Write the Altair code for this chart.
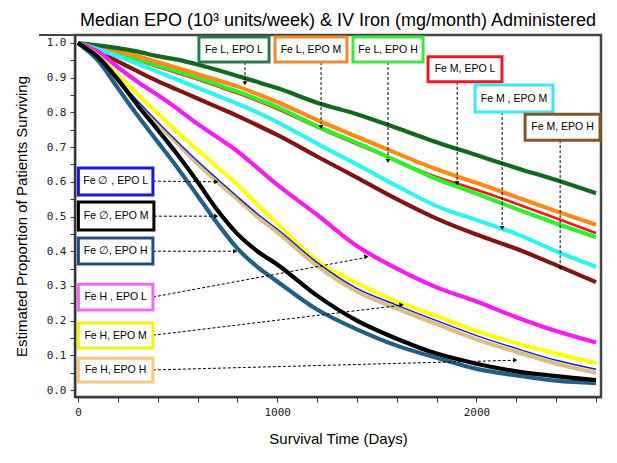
import math
import altair as alt
import pandas as pd

# ---------------- data ----------------
DAYS = [0, 100, 200, 300, 400, 500, 600, 700, 800, 900, 1000, 1200, 1400, 1600, 1800, 2000, 2200, 2400, 2600]

SERIES = ["Fe M, EPO L", "Fe L, EPO H", "Fe L, EPO M", "Fe L, EPO L", "Fe M, EPO H", "Fe M, EPO M",
          "Fe H, EPO L", "Fe H, EPO M", "Fe H, EPO H", "Fe ∅, EPO L", "Fe ∅, EPO H", "Fe ∅, EPO M"]

S_FE_L_EPO_L = [1.0, 0.993, 0.985, 0.975, 0.962, 0.952, 0.938, 0.922, 0.905, 0.888, 0.870, 0.828, 0.795, 0.755, 0.714, 0.677, 0.640, 0.605, 0.567]
S_FE_L_EPO_M = [1.0, 0.990, 0.977, 0.962, 0.945, 0.928, 0.910, 0.893, 0.875, 0.853, 0.830, 0.778, 0.730, 0.682, 0.636, 0.597, 0.556, 0.515, 0.476]
S_FE_L_EPO_H = [1.0, 0.987, 0.972, 0.953, 0.935, 0.918, 0.900, 0.880, 0.860, 0.838, 0.815, 0.760, 0.712, 0.660, 0.608, 0.566, 0.522, 0.480, 0.440]
S_FE_M_EPO_L = [1.0, 0.986, 0.970, 0.950, 0.931, 0.913, 0.895, 0.875, 0.855, 0.833, 0.810, 0.757, 0.708, 0.660, 0.614, 0.577, 0.537, 0.495, 0.452]
S_FE_M_EPO_M = [1.0, 0.982, 0.962, 0.940, 0.917, 0.894, 0.871, 0.848, 0.825, 0.800, 0.772, 0.710, 0.650, 0.588, 0.530, 0.490, 0.450, 0.400, 0.355]
S_FE_M_EPO_H = [1.0, 0.975, 0.947, 0.918, 0.890, 0.865, 0.840, 0.815, 0.790, 0.763, 0.735, 0.673, 0.612, 0.550, 0.494, 0.448, 0.407, 0.360, 0.311]
S_FE_0_EPO_L = [1.0, 0.955, 0.895, 0.832, 0.772, 0.715, 0.660, 0.608, 0.557, 0.508, 0.464, 0.368, 0.293, 0.245, 0.200, 0.157, 0.120, 0.086, 0.060]
S_FE_0_EPO_M = [1.0, 0.960, 0.895, 0.820, 0.750, 0.678, 0.600, 0.518, 0.450, 0.400, 0.362, 0.272, 0.200, 0.148, 0.105, 0.076, 0.054, 0.040, 0.029]
S_FE_0_EPO_H = [1.0, 0.950, 0.870, 0.790, 0.715, 0.640, 0.560, 0.480, 0.408, 0.355, 0.313, 0.232, 0.175, 0.128, 0.093, 0.061, 0.042, 0.027, 0.020]
S_FE_H_EPO_L = [1.0, 0.975, 0.930, 0.888, 0.850, 0.810, 0.767, 0.728, 0.688, 0.640, 0.592, 0.505, 0.415, 0.350, 0.296, 0.255, 0.210, 0.170, 0.137]
S_FE_H_EPO_M = [1.0, 0.963, 0.908, 0.852, 0.797, 0.743, 0.692, 0.642, 0.592, 0.535, 0.480, 0.372, 0.308, 0.255, 0.213, 0.170, 0.135, 0.105, 0.078]
S_FE_H_EPO_H = [1.0, 0.952, 0.890, 0.828, 0.768, 0.710, 0.652, 0.600, 0.550, 0.500, 0.455, 0.358, 0.284, 0.235, 0.190, 0.146, 0.110, 0.076, 0.050]

VALUES = {
    "Fe L, EPO L": S_FE_L_EPO_L, "Fe L, EPO M": S_FE_L_EPO_M, "Fe L, EPO H": S_FE_L_EPO_H,
    "Fe M, EPO L": S_FE_M_EPO_L, "Fe M, EPO M": S_FE_M_EPO_M, "Fe M, EPO H": S_FE_M_EPO_H,
    "Fe ∅, EPO L": S_FE_0_EPO_L, "Fe ∅, EPO M": S_FE_0_EPO_M, "Fe ∅, EPO H": S_FE_0_EPO_H,
    "Fe H, EPO L": S_FE_H_EPO_L, "Fe H, EPO M": S_FE_H_EPO_M, "Fe H, EPO H": S_FE_H_EPO_H,
}

X_TICKS = list(range(0, 2601, 200))
Y_TICKS = [round(i * 0.05, 2) for i in range(21)]

# ---------------- styles ----------------
LINE_COLOR = {
    "Fe L, EPO L": "#0f6a1c", "Fe L, EPO M": "#ff8a1c", "Fe L, EPO H": "#2ef02e",
    "Fe M, EPO L": "#f01818", "Fe M, EPO M": "#30f4f4", "Fe M, EPO H": "#821414",
    "Fe ∅, EPO L": "#1c1cc8", "Fe ∅, EPO M": "#000000", "Fe ∅, EPO H": "#1f6088",
    "Fe H, EPO L": "#f51cf5", "Fe H, EPO M": "#ffff14", "Fe H, EPO H": "#d8bf88",
}
LINE_WIDTH = {k: 4.2 for k in LINE_COLOR}
LINE_WIDTH["Fe M, EPO L"] = 2.6
LINE_WIDTH["Fe ∅, EPO L"] = 1.4

# label boxes: text, border colour, box (day, day2, surv, surv2), arrow (start day, start surv, end day, end surv)
LABELS = [
    ("Fe L, EPO L", "#2a7a50", 607, 959, 1.017, 0.945, 838, 0.945, 838, 0.893),
    ("Fe L, EPO M", "#f28a2a", 989, 1350, 1.017, 0.945, 1220, 0.945, 1220, 0.767),
    ("Fe L, EPO H", "#3ee83e", 1380, 1732, 1.017, 0.945, 1556, 0.945, 1556, 0.669),
    ("Fe M, EPO L", "#e81a2a", 1757, 2128, 0.960, 0.888, 1903, 0.888, 1903, 0.605),
    ("Fe M , EPO M", "#3ee8f2", 1993, 2384, 0.879, 0.801, 2129, 0.801, 2129, 0.476),
    ("Fe M, EPO H", "#84542a", 2244, 2620, 0.795, 0.720, 2420, 0.720, 2420, 0.360),
    ("Fe ∅ , EPO L", "#1a1ad0", 2, 376, 0.640, 0.562, 376, 0.602, 703, 0.600),
    ("Fe ∅, EPO M", "#000000", 2, 381, 0.542, 0.461, 381, 0.501, 703, 0.501),
    ("Fe ∅, EPO H", "#1f4e88", 2, 376, 0.438, 0.363, 376, 0.400, 798, 0.400),
    ("Fe H , EPO L", "#f06cf0", 2, 376, 0.305, 0.231, 376, 0.268, 1456, 0.383),
    ("Fe H, EPO M", "#f2f214", 2, 376, 0.193, 0.121, 376, 0.158, 1632, 0.245),
    ("Fe H, EPO H", "#f5c87a", 2, 376, 0.092, 0.023, 376, 0.058, 2204, 0.086),
]

W, H = 526, 362
X_DOM = [-15, 2625]
Y_DOM = [-0.02, 1.023]
PX_PER_DAY = W / (X_DOM[1] - X_DOM[0])
PX_PER_UNIT = H / (Y_DOM[1] - Y_DOM[0])

# ---------------- tables ----------------
rows = []
for name in SERIES:
    for d, v in zip(DAYS, VALUES[name]):
        rows.append({"series": name, "day": d, "surv": v})
curves = pd.DataFrame(rows)

box_rows, arrow_rows = [], []
for (txt, col, d1, d2, s1, s2, ad1, as1, ad2, as2) in LABELS:
    box_rows.append({"label": txt, "col": col, "day": d1, "day2": d2, "surv": s1, "surv2": s2,
                     "tday": (d1 + d2) / 2, "tsurv": (s1 + s2) / 2})
    dx = (ad2 - ad1) * PX_PER_DAY
    dy = -(as2 - as1) * PX_PER_UNIT
    ang = math.degrees(math.atan2(dx, -dy)) % 360
    arrow_rows.append({"day": ad1, "surv": as1, "day2": ad2, "surv2": as2, "angle": ang,
                       "hday": ad2 - 2.5 * math.sin(math.radians(ang)) / PX_PER_DAY,
                       "hsurv": as2 + 2.5 * math.cos(math.radians(ang)) / PX_PER_UNIT})
boxes = pd.DataFrame(box_rows)
arrows = pd.DataFrame(arrow_rows)

# ---------------- encodings ----------------
xscale = alt.Scale(domain=X_DOM, nice=False, zero=False)
yscale = alt.Scale(domain=Y_DOM, nice=False, zero=False)
xaxis = alt.Axis(values=X_TICKS, labelExpr="datum.value % 1000 == 0 ? datum.value : ''",
                 title="Survival Time (Days)", titlePadding=14, labelPadding=4)
yaxis = alt.Axis(values=Y_TICKS, labelExpr="round(datum.value*100) % 10 == 0 ? format(datum.value, '.1f') : ''",
                 title="Estimated Proportion of Patients Surviving", titlePadding=17, labelPadding=4)


def X(field):
    return alt.X(field, type="quantitative", scale=xscale, axis=xaxis)


def Y(field):
    return alt.Y(field, type="quantitative", scale=yscale, axis=yaxis)


layers = []
for name in SERIES:
    ln = alt.Chart(curves[curves.series == name]).mark_line(
        color=LINE_COLOR[name], strokeWidth=LINE_WIDTH[name], strokeJoin="round",
        interpolate="monotone", clip=True
    ).encode(x=X("day"), y=Y("surv"))
    layers.append(ln)

top_ext = alt.Chart(pd.DataFrame({"a": [0]})).mark_rule(color="#444", strokeWidth=2).encode(
    x=alt.value(-36), x2=alt.value(W), y=alt.value(0))

dash = alt.Chart(arrows).mark_rule(color="black", strokeWidth=1, strokeDash=[3, 2]).encode(
    x=X("day"), x2="day2", y=Y("surv"), y2="surv2")
heads = alt.Chart(arrows).mark_point(shape="triangle", filled=True, color="black", opacity=1, size=22).encode(
    x=X("hday"), y=Y("hsurv"), angle=alt.Angle("angle:Q", scale=None))
rects = alt.Chart(boxes).mark_rect(fill="white", strokeWidth=3).encode(
    x=X("day"), x2="day2", y=Y("surv"), y2="surv2",
    stroke=alt.Stroke("col:N", scale=None))
texts = alt.Chart(boxes).mark_text(font="Liberation Sans", fontSize=10.5, color="black").encode(
    x=X("tday"), y=Y("tsurv"), text="label:N")

chart = alt.layer(*layers, top_ext, dash, heads, rects, texts).properties(
    width=W, height=H,
    title=alt.TitleParams("Median EPO (10³ units/week) & IV Iron (mg/month) Administered",
                          font="Liberation Sans", fontSize=18, fontWeight="normal",
                          anchor="middle", offset=4, color="black"),
    padding={"left": 67, "top": 27, "right": 8, "bottom": 58},
    autosize=alt.AutoSizeParams(type="none"),
).configure_view(stroke="#444", strokeWidth=2.5).configure_axis(
    grid=False, domainColor="#333", domainWidth=1.5, tickColor="#333", tickWidth=1, tickSize=5,
    labelFont="DejaVu Sans Mono", labelFontSize=11, labelColor="#222",
    titleFont="Liberation Sans", titleFontSize=15, titleFontWeight="normal", titleColor="black"
)

chart.save("out.html", embed_options={"renderer": "svg", "actions": False})
